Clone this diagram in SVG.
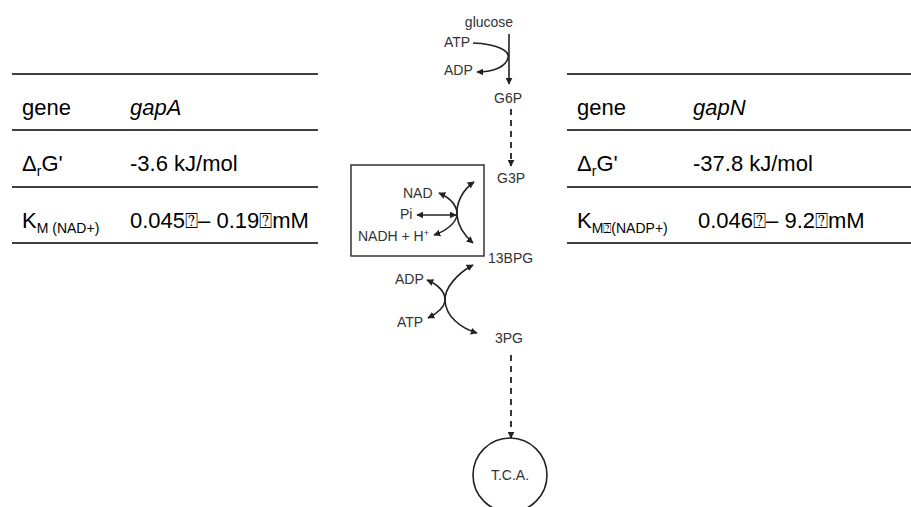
<svg xmlns="http://www.w3.org/2000/svg" width="911" height="507" viewBox="0 0 911 507">
<style>
.t{font-family:"Liberation Sans",Arial,sans-serif;font-size:22px;fill:#000}
.i{font-style:italic}
.sub{font-size:14px}
.rule{stroke:#000;stroke-width:1.5;fill:none}
.lbl{font-family:"Liberation Sans",Arial,sans-serif;font-size:14px;fill:#333}
.c{stroke:#222;stroke-width:1.6;fill:none}
.d{stroke:#222;stroke-width:1.8;fill:none;stroke-dasharray:6 5}
</style>
<defs>
<marker id="ah" viewBox="0 0 10 10" refX="9" refY="5" markerWidth="7" markerHeight="7" markerUnits="userSpaceOnUse" orient="auto-start-reverse">
<path d="M0,0 L10,5 L0,10 Z" fill="#222"/>
</marker>
</defs>
<g id="table-left">
<line class="rule" x1="12" y1="74" x2="318" y2="74"/>
<line class="rule" x1="12" y1="130" x2="318" y2="130"/>
<line class="rule" x1="12" y1="187" x2="318" y2="187"/>
<line class="rule" x1="12" y1="243" x2="318" y2="243"/>
<text class="t" x="22" y="115">gene</text>
<text class="t i" x="130" y="115">gapA</text>
<text class="t" x="22" y="171">Δ<tspan class="sub" dy="5">r</tspan><tspan dy="-5">G'</tspan></text>
<text class="t" x="130" y="171">-3.6 kJ/mol</text>
<text class="t" x="22" y="228">K<tspan class="sub" dy="5">M  (NAD+)</tspan></text>
<text class="t" x="130" y="228">0.045⍰– 0.19⍰mM</text>
</g>
<g id="table-right">
<line class="rule" x1="567" y1="74" x2="911" y2="74"/>
<line class="rule" x1="567" y1="130" x2="911" y2="130"/>
<line class="rule" x1="567" y1="187" x2="911" y2="187"/>
<line class="rule" x1="567" y1="243" x2="911" y2="243"/>
<text class="t" x="577" y="115">gene</text>
<text class="t i" x="693" y="115">gapN</text>
<text class="t" x="577" y="171">Δ<tspan class="sub" dy="5">r</tspan><tspan dy="-5">G'</tspan></text>
<text class="t" x="693" y="171">-37.8 kJ/mol</text>
<text class="t" x="577" y="228">K<tspan class="sub" dy="5">M⍰(NADP+)</tspan></text>
<text class="t" x="698" y="228">0.046⍰– 9.2⍰mM</text>
</g>
<g id="glucose"><text class="lbl" x="489" y="27" text-anchor="middle">glucose</text></g>
<g id="atp1"><text class="lbl" x="444" y="47">ATP</text></g>
<g id="adp1"><text class="lbl" x="444" y="75">ADP</text></g>
<g id="g6p"><text class="lbl" x="494" y="103">G6P</text></g>
<g id="g3p"><text class="lbl" x="497" y="183">G3P</text></g>
<g id="gapdh-box">
<rect x="351" y="165" width="133" height="91" fill="none" stroke="#333" stroke-width="1.5"/>
<text class="lbl" x="403" y="198">NAD</text>
<text class="lbl" x="400" y="219">Pi</text>
<text class="lbl" x="358" y="241">NADH + H<tspan font-size="9" dy="-5">+</tspan></text>
</g>
<g id="bpg13"><text class="lbl" x="488" y="263">13BPG</text></g>
<g id="adp2"><text class="lbl" x="395" y="284">ADP</text></g>
<g id="atp2"><text class="lbl" x="397" y="327">ATP</text></g>
<g id="pg3"><text class="lbl" x="495" y="343">3PG</text></g>
<g id="tca">
<circle cx="510" cy="475" r="37" fill="none" stroke="#222" stroke-width="1.6"/>
<text class="lbl" x="510" y="480" text-anchor="middle">T.C.A.</text>
</g>
<g id="connectors">
<path class="c" d="M509,34 V84" marker-end="url(#ah)"/>
<path class="c" d="M473,43 C498,44 510,51 508,58 C506,66 495,72 477,72" marker-end="url(#ah)"/>
<path class="d" d="M511,109 V166" marker-end="url(#ah)"/>
<path class="c" d="M439,193 C451,198 458,207 457,215 C456,223 446,231 434,235" marker-start="url(#ah)" marker-end="url(#ah)"/>
<path class="c" d="M474,182 C462,190 456,204 457,215 C458,227 465,236 473,243" marker-start="url(#ah)" marker-end="url(#ah)"/>
<path class="c" d="M417,215 H456" marker-start="url(#ah)" marker-end="url(#ah)"/>
<path class="c" d="M427,280 C439,285 446,293 445,301 C444,308 438,313 428,318" marker-start="url(#ah)" marker-end="url(#ah)"/>
<path class="c" d="M473,265 C458,273 444,288 445,301 C446,316 460,328 477,333" marker-start="url(#ah)" marker-end="url(#ah)"/>
<path class="d" d="M511,355 V438" marker-end="url(#ah)"/>
</g>
</svg>
